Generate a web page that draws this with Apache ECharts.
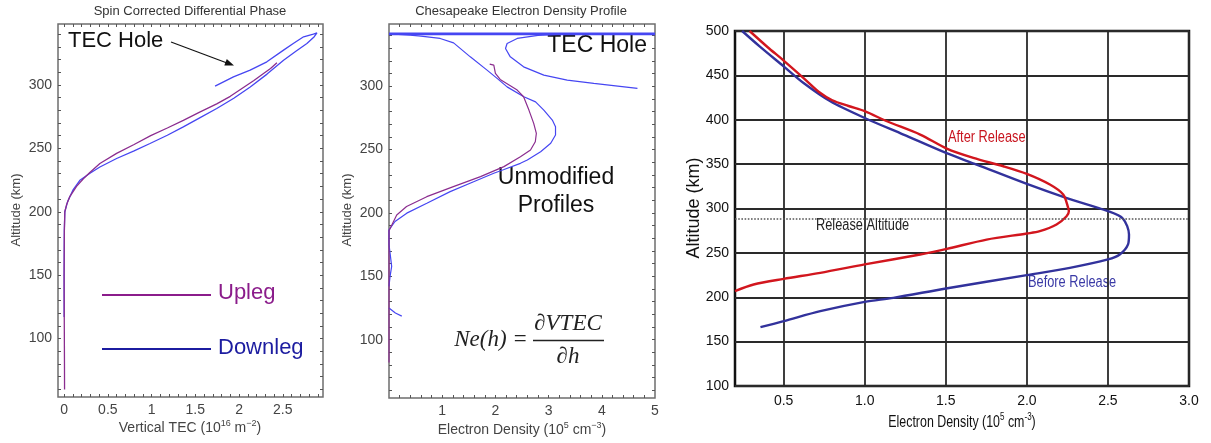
<!DOCTYPE html>
<html>
<head>
<meta charset="utf-8">
<title>Electron density profiles</title>
<script src="https://cdn.jsdelivr.net/npm/echarts@6.0.0/dist/echarts.min.js"></script>
<style>
  html, body { margin: 0; padding: 0; background: #ffffff; }
  #chart { width: 1211px; height: 443px; }
</style>
</head>
<body>
<div id="chart"></div>
<script>
// ---- Left panel: spin corrected differential phase (vertical TEC vs altitude) ----
const tecUpleg = [
  [0.005, 60], [0.004, 80], [0.002, 110], [0.0, 150], [0.003, 185], [0.008, 200],
  [0.03, 206], [0.065, 212], [0.142, 220], [0.22, 226], [0.294, 231], [0.409, 238],
  [0.6, 246], [0.8, 253], [0.99, 260], [1.18, 266], [1.363, 272], [1.55, 278.5],
  [1.745, 285], [1.9, 291], [2.05, 298], [2.17, 303.5], [2.28, 309], [2.36, 313],
  [2.433, 317.4]
];
const tecDownleg = [
  [0.0, 117], [0.0, 150], [0.002, 185], [0.008, 200], [0.04, 208], [0.1, 217],
  [0.18, 224.8], [0.3, 230.5], [0.409, 235.3], [0.6, 242], [0.8, 248], [0.982, 253.8],
  [1.18, 260.3], [1.363, 266.9], [1.55, 274], [1.745, 281.4], [1.94, 289.5],
  [2.128, 298.4], [2.32, 308.5], [2.509, 319.5], [2.65, 326.5], [2.776, 332.6],
  [2.86, 338], [2.891, 341], [2.85, 340], [2.738, 337.9], [2.62, 332.6],
  [2.509, 327.4], [2.318, 318.2], [2.127, 311.6], [1.936, 306.3], [1.726, 299]
];

// ---- Middle panel: Chesapeake electron density profile ----
const densUpleg = [
  [0, 82], [0, 100], [0, 150], [0, 186], [0.145, 198.4], [0.33, 205], [0.71, 212.8],
  [1.21, 220.7], [1.72, 228.6], [2.16, 236.5], [2.47, 244.3], [2.66, 249.6],
  [2.75, 256.1], [2.77, 262.8], [2.72, 270.6], [2.63, 281.1], [2.53, 291.6],
  [2.41, 296.9], [2.09, 305.3], [2.0, 310], [1.97, 316.5], [1.893, 317.3]
];
const densDownleg = [
  [0, 142], [0.02, 150], [0.05, 157.8], [0.02, 168.3], [0, 175], [0, 186.6],
  [0.113, 193.2], [0.334, 199.8], [0.711, 207.6], [1.15, 216.8], [1.59, 224.6],
  [1.97, 231.3], [2.15, 234], [2.47, 239.1], [2.6, 241.7], [2.85, 248.3],
  [3.04, 254.9], [3.13, 261.4], [3.13, 268], [3.07, 273.2], [2.91, 281.1],
  [2.755, 287.6], [2.534, 291.6], [2.22, 299.4], [2.032, 306.1], [1.843, 312.6],
  [1.528, 323.1], [1.214, 334.1], [0.962, 337.6], [0.6, 339.5], [0.396, 340.2],
  [0.1, 341]
];
const densHoleBranch = [
  [3.35, 341.2], [2.8, 340], [2.41, 337.6], [2.22, 333.6], [2.19, 329.7],
  [2.28, 323.1], [2.53, 315.2], [2.91, 308.7], [3.35, 304.7], [3.85, 302.1],
  [4.3, 300], [4.67, 298.2]
];
const densApogeeSpike = [[0, 341.2], [5, 341.2]];
const densLowSegment = [[0, 125], [0.12, 121], [0.24, 118.6]];

// ---- Right panel: before / after release ----
const afterRelease = [
  [0.29, 500], [0.4, 482], [0.5, 466.7], [0.623, 447], [0.72, 431], [0.8, 422],
  [0.9, 415.5], [1.0, 409.6], [1.137, 398.3], [1.342, 383.3], [1.506, 367.5],
  [1.67, 357], [1.855, 347.6], [2.0, 339], [2.142, 327], [2.224, 315.8],
  [2.255, 300.7], [2.259, 297], [2.245, 291.3], [2.183, 282], [2.08, 274.4],
  [2.0, 271.8], [1.752, 265], [1.506, 254.5], [1.342, 248.2], [1.0, 237],
  [0.726, 227.5], [0.5, 220.7], [0.315, 214.4], [0.2, 207]
];
const beforeRelease = [
  [0.244, 500], [0.35, 483], [0.5, 460.2], [0.623, 441.4], [0.788, 420.8],
  [1.0, 402], [1.239, 383.3], [1.501, 362.6], [1.69, 349.5], [2.0, 327.7],
  [2.242, 312], [2.5, 297], [2.593, 288.5], [2.63, 270.7], [2.624, 259.5],
  [2.573, 248.2], [2.5, 242.6], [2.265, 233.1], [2.0, 224.9], [1.501, 209.9],
  [1.177, 199.3], [1.0, 194.8], [0.726, 184.3], [0.5, 173], [0.357, 166.3]
];
const releaseAltitude = 289;

// ---- Tick labels ----
const tecTicks = [0, 0.5, 1, 1.5, 2, 2.5];
const densTicks = [1, 2, 3, 4, 5];
const altTicks = [100, 150, 200, 250, 300];
const releaseDensTicks = [0.5, 1.0, 1.5, 2.0, 2.5, 3.0];

// ---- Fonts and colours ----
const SANS = '"Liberation Sans", Arial, sans-serif';
const SERIF = '"Liberation Serif", "Times New Roman", serif';
const PURPLE = '#8b2d8f';
const BLUE = '#4646f2';

function steps(a, b, s) {
  const out = [];
  for (let v = a; v <= b + 1e-9; v += s) out.push(+v.toFixed(4));
  return out;
}

// Mathematica-style frame axis: small inward ticks, labels only on bottom/left
function frameAxis(gridIndex, position, min, max, labelVals, tickVals, showLabels) {
  return {
    type: 'value', gridIndex, position, min, max,
    axisLine: { show: false, onZero: false },
    splitLine: { show: false },
    axisTick: {
      show: true, inside: true, length: 3, customValues: tickVals,
      lineStyle: { color: '#555', width: 1 }
    },
    axisLabel: {
      show: showLabels, customValues: labelVals, color: '#444',
      fontFamily: SANS, fontSize: 14, margin: 6, formatter: v => String(v)
    }
  };
}

function line(data, xi, yi, color, width, smooth) {
  return {
    type: 'line', data, xAxisIndex: xi, yAxisIndex: yi,
    showSymbol: false, symbol: 'none', smooth: smooth || 0,
    lineStyle: { color, width }, itemStyle: { color },
    silent: true
  };
}

function text(x, y, str, font, fill, align, rotation, scaleX) {
  return {
    type: 'text', x, y, rotation: rotation || 0, scaleX: scaleX || 1, silent: true,
    style: { text: str, font, fill, align: align || 'center', verticalAlign: 'middle' }
  };
}

function richText(x, y, parts, size, fill, scaleX) {
  return {
    type: 'text', x, y, scaleX: scaleX || 1, silent: true,
    style: {
      text: parts, align: 'center', verticalAlign: 'middle',
      rich: {
        a: { fontSize: size, fontFamily: SANS, fill, lineHeight: size + 4 },
        s: { fontSize: Math.round(size * 0.65), fontFamily: SANS, fill, verticalAlign: 'top' }
      }
    }
  };
}

const tecMinor = steps(0, 2.9, 0.1);
const densMinor = steps(0.2, 4.8, 0.2);
const altMinor = steps(60, 340, 10);

const chart = echarts.init(document.getElementById('chart'), null, { renderer: 'canvas' });

chart.setOption({
  animation: false,
  backgroundColor: '#ffffff',
  grid: [
    { left: 58, top: 24, width: 265, height: 373, show: true, borderColor: '#6e6e6e', borderWidth: 1.5, backgroundColor: '#fff' },
    { left: 389, top: 24, width: 266, height: 374, show: true, borderColor: '#6e6e6e', borderWidth: 1.5, backgroundColor: '#fff' },
    { left: 735, top: 31, width: 454, height: 355, show: true, borderColor: '#111', borderWidth: 2.5, backgroundColor: '#fff' }
  ],
  xAxis: [
    frameAxis(0, 'bottom', -0.07, 2.96, tecTicks, tecMinor, true),
    frameAxis(0, 'top', -0.07, 2.96, [], tecMinor, false),
    frameAxis(1, 'bottom', 0, 5, densTicks, densMinor, true),
    frameAxis(1, 'top', 0, 5, [], densMinor, false),
    {
      type: 'value', gridIndex: 2, position: 'bottom', min: 0.2, max: 3.0,
      axisLine: { show: false, onZero: false },
      axisTick: { show: false, customValues: releaseDensTicks },
      axisLabel: {
        customValues: releaseDensTicks, formatter: v => v.toFixed(1),
        color: '#111', fontFamily: SANS, fontSize: 14, margin: 8
      },
      splitLine: { show: true, lineStyle: { color: '#2a2a2a', width: 1.8 } }
    }
  ],
  yAxis: [
    frameAxis(0, 'left', 54, 348, altTicks, altMinor, true),
    frameAxis(0, 'right', 54, 348, [], altMinor, false),
    frameAxis(1, 'left', 54, 349, altTicks, altMinor, true),
    frameAxis(1, 'right', 54, 349, [], altMinor, false),
    {
      type: 'value', gridIndex: 2, position: 'left', min: 100, max: 500, interval: 50,
      axisLine: { show: false, onZero: false },
      axisTick: { show: false },
      axisLabel: { color: '#111', fontFamily: SANS, fontSize: 14, margin: 6 },
      splitLine: { show: true, lineStyle: { color: '#2a2a2a', width: 1.8 } }
    }
  ],
  series: [
    line(tecDownleg, 0, 0, BLUE, 1.3),
    line(tecUpleg, 0, 0, PURPLE, 1.3),

    line(densApogeeSpike, 2, 2, BLUE, 2.6),
    line(densDownleg, 2, 2, BLUE, 1.2),
    line(densHoleBranch, 2, 2, BLUE, 1.2),
    line(densLowSegment, 2, 2, BLUE, 1.2),
    line(densUpleg, 2, 2, PURPLE, 1.2),

    Object.assign(line(beforeRelease, 4, 4, '#32329c', 2.4, 0.3), {
      markLine: {
        silent: true, symbol: ['none', 'none'], animation: false,
        label: { show: false },
        lineStyle: { type: 'dotted', color: '#555', width: 1.6 },
        data: [{ yAxis: releaseAltitude }]
      }
    }),
    line(afterRelease, 4, 4, '#d2161e', 2.4, 0.3)
  ],
  graphic: [
    // panel titles
    text(190, 11, 'Spin Corrected Differential Phase', '13px ' + SANS, '#333'),
    text(521, 11, 'Chesapeake Electron Density Profile', '13px ' + SANS, '#333'),

    // axis names, left panel
    richText(190, 428, '{a|Vertical TEC (10}{s|16}{a| m}{s|−2}{a|)}', 14, '#444'),
    text(16, 210, 'Altitude (km)', '13px ' + SANS, '#444', 'center', Math.PI / 2),
    // axis names, middle panel
    richText(522, 430, '{a|Electron Density (10}{s|5}{a| cm}{s|−3}{a|)}', 14, '#444'),
    text(347, 210, 'Altitude (km)', '13px ' + SANS, '#444', 'center', Math.PI / 2),
    // axis names, right panel (condensed lettering)
    richText(962, 422, '{a|Electron Density (10}{s|5}{a| cm}{s|-3}{a|)}', 17, '#111', 0.73),
    text(694, 208, 'Altitude (km)', '18px ' + SANS, '#111', 'center', Math.PI / 2),

    // left panel annotations
    text(68, 41, 'TEC Hole', '22px ' + SANS, '#111', 'left'),
    { type: 'line', silent: true, shape: { x1: 171, y1: 42, x2: 227, y2: 63 },
      style: { stroke: '#111', lineWidth: 1.2 } },
    { type: 'polygon', silent: true,
      shape: { points: [[234, 65.5], [224.3, 65.6], [226.8, 59.1]] },
      style: { fill: '#111' } },
    { type: 'line', silent: true, shape: { x1: 102, y1: 295, x2: 211, y2: 295 },
      style: { stroke: '#8b1c8b', lineWidth: 1.8 } },
    text(218, 293, 'Upleg', '22px ' + SANS, '#8b1c8b', 'left'),
    { type: 'line', silent: true, shape: { x1: 102, y1: 349, x2: 211, y2: 349 },
      style: { stroke: '#1c1ca0', lineWidth: 1.8 } },
    text(218, 348, 'Downleg', '22px ' + SANS, '#1c1ca0', 'left'),

    // middle panel annotations
    text(647, 46, 'TEC Hole', '23px ' + SANS, '#111', 'right'),
    text(556, 178, 'Unmodified', '23px ' + SANS, '#111'),
    text(556, 206, 'Profiles', '23px ' + SANS, '#111'),
    text(491, 340, 'Ne(h) =', 'italic 23px ' + SERIF, '#222'),
    text(568, 324, '∂VTEC', 'italic 23px ' + SERIF, '#222'),
    { type: 'line', silent: true, shape: { x1: 533, y1: 340.5, x2: 604, y2: 340.5 },
      style: { stroke: '#222', lineWidth: 1.3 } },
    text(568, 357, '∂h', 'italic 23px ' + SERIF, '#222'),

    // right panel annotations (condensed lettering)
    text(948, 138, 'After Release', '16px ' + SANS, '#c8141e', 'left', 0, 0.8),
    text(1028, 283, 'Before Release', '16px ' + SANS, '#3a3aa6', 'left', 0, 0.8),
    text(816, 226, 'Release Altitude', '16px ' + SANS, '#222', 'left', 0, 0.8)
  ]
});
</script>
</body>
</html>
